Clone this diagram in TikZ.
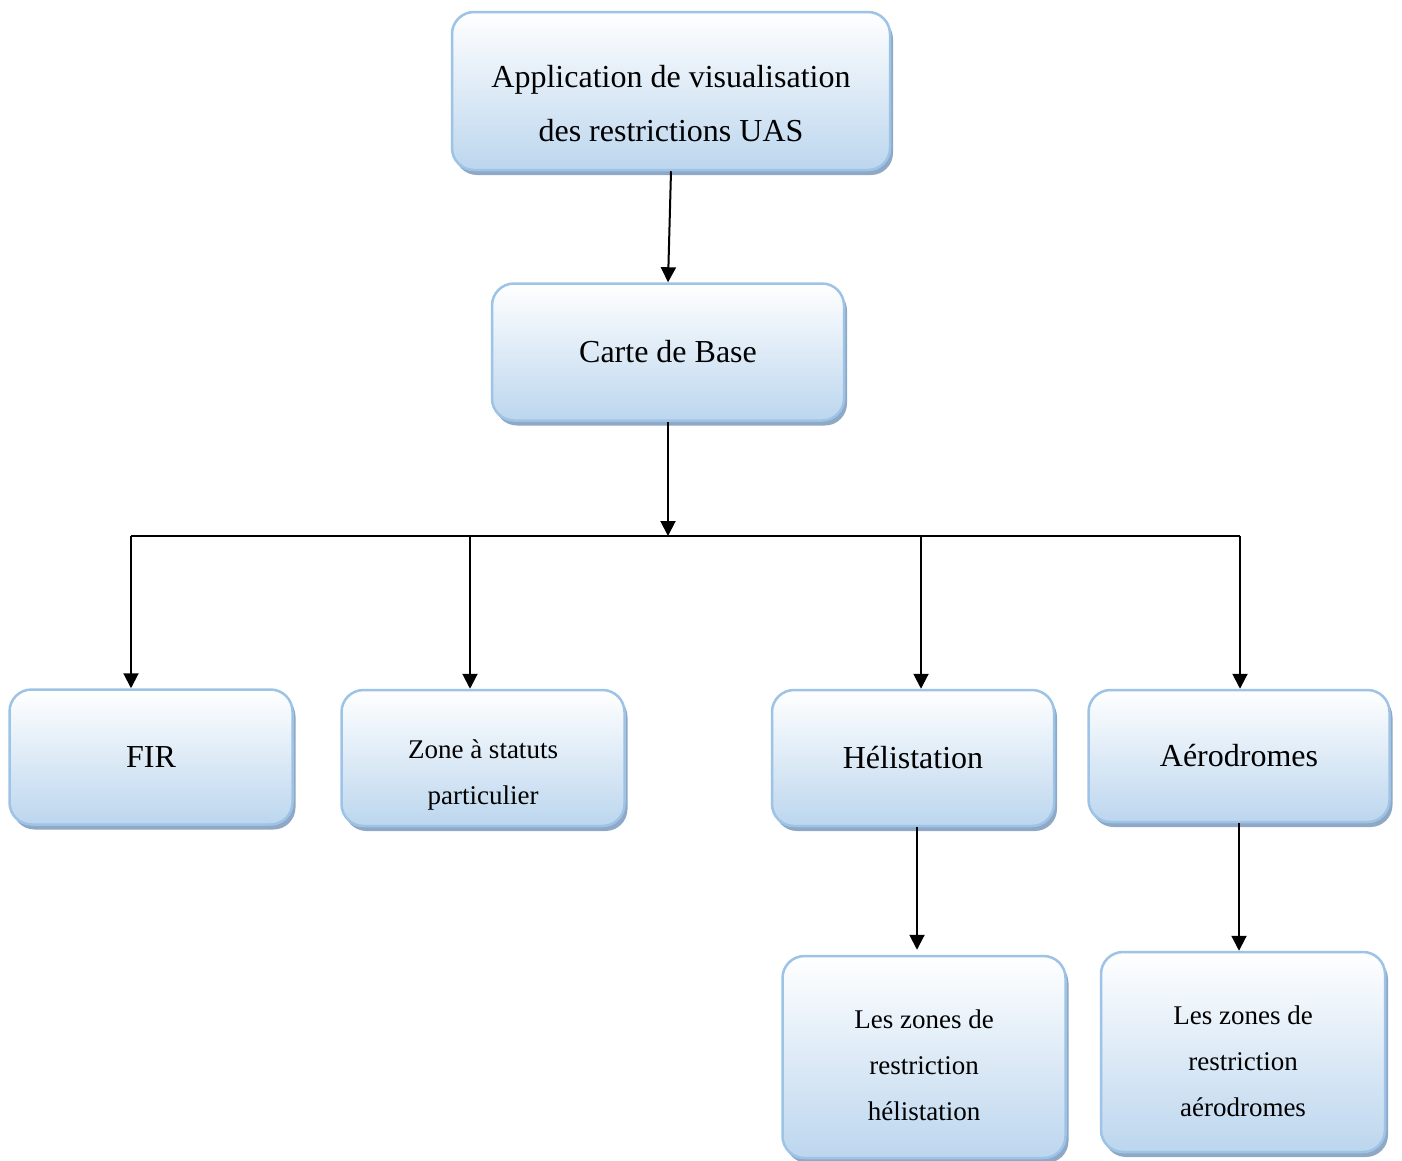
\documentclass[tikz,border=0pt]{standalone}
\usepackage{fontspec}
\setmainfont{Liberation Serif}
\usepackage{tikz}
\usetikzlibrary{positioning, calc, arrows.meta, shadows}
\definecolor{boxline}  {HTML}{9DC3E6}
\definecolor{boxbottom}{HTML}{BCD6EE}
\definecolor{boxshadow}{HTML}{8EA8C6}
% invisible strut that pushes multi-line text down a little
\newcommand{\boxgap}[1]{\rule{0pt}{#1}}
\tikzset{
  >={Triangle[length=15pt, width=15pt]},
  box/.style={
    draw=boxline, line width=2.5pt, rounded corners=22pt,
    rectangle, align=center, inner sep=4pt,
    top color=white, bottom color=boxbottom,
    drop shadow={shadow xshift=3pt, shadow yshift=-5pt,
                 fill=boxshadow, opacity=1},
    font=\fontsize{32}{54}\selectfont
  },
  boxsm/.style={
    box, font=\fontsize{27}{46}\selectfont
  },
  link/.style={
    line width=2pt, draw=black
  },
}

\begin{document}
\begin{tikzpicture}[x=1pt, y=-1pt]
\useasboundingbox (0,0) rectangle (1402,1160);

% ---- Nodes ---------------------------------------------------------
% Row 1: application
\node[box, minimum width=438, minimum height=158] (app)   at (671, 91)
  {\boxgap{48pt}Application de visualisation\\des restrictions UAS};

% Row 2: base map
\node[box, minimum width=352, minimum height=137] (carte) at (668, 352)
  {Carte de Base};

% Row 3: layers
\node[box,   minimum width=283, minimum height=135] (fir)  at (151, 757) {FIR};
\node[boxsm, minimum width=283, minimum height=136] (zone) at (483, 758)
  {\boxgap{52pt}Zone à statuts\\particulier};
\node[box,   minimum width=282, minimum height=136] (heli) at (913, 758) {Hélistation};
\node[box,   minimum width=301, minimum height=132] (aero) at (1239, 756) {Aérodromes};

% Row 4: restriction zones
\node[boxsm, minimum width=283, minimum height=202] (zheli) at (924, 1057)
  {\boxgap{35pt}Les zones de\\restriction\\hélistation};
\node[boxsm, minimum width=284, minimum height=200] (zaero) at (1243, 1052)
  {\boxgap{37pt}Les zones de\\restriction\\aérodromes};

% ---- Links --------------------------------------------------------
\draw[link, ->] (app.south) -- (carte.north);

% trunk below the base map
\coordinate (trunk)  at (carte.south |- 0,536);
\coordinate (t_fir)  at (131, 536);
\coordinate (t_zone) at (470, 536);
\coordinate (t_heli) at (921, 536);
\coordinate (t_aero) at (1240, 536);
\draw[link, ->] (carte.south) -- (trunk);
\draw[link] (t_fir) -- (t_aero);

\draw[link, ->] (t_fir)  -- (t_fir  |- fir.north);
\draw[link, ->] (t_zone) -- (t_zone |- zone.north);
\draw[link, ->] (t_heli) -- (t_heli |- heli.north);
\draw[link, ->] (t_aero) -- (t_aero |- aero.north);

% down to the restriction zones
\coordinate (h_drop) at ($(heli.south) + (4,0)$);
\draw[link, ->, shorten >=5pt] (h_drop) -- (h_drop |- zheli.north);
\draw[link, ->] (aero.south) -- (aero.south |- zaero.north);

\end{tikzpicture}
\end{document}
